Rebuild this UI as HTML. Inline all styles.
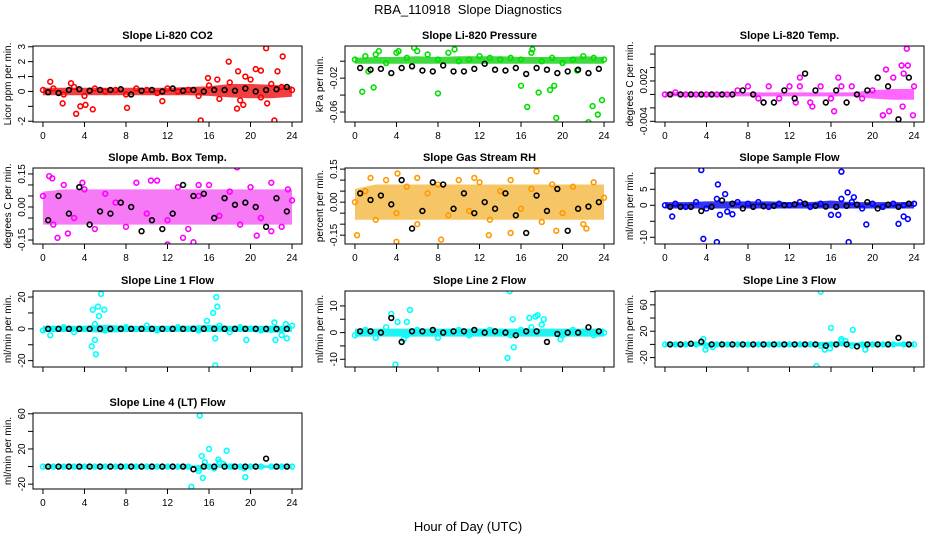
<!DOCTYPE html>
<html><head><meta charset="utf-8">
<style>
html,body{margin:0;padding:0;background:#fff;}
svg{display:block;font-family:"Liberation Sans",Arial,sans-serif;}
</style></head>
<body>
<svg id="chart" width="936" height="540" viewBox="0 0 936 540" xmlns="http://www.w3.org/2000/svg">
<rect x="0" y="0" width="936" height="540" fill="#fff"/>
<text x="468" y="14" text-anchor="middle" font-size="13" xml:space="preserve">RBA_110918  Slope Diagnostics</text>
<text x="468" y="531" text-anchor="middle" font-size="13">Hour of Day (UTC)</text>
</svg>
<script>
// ---------- shared x data ----------
const hourTicks = [0,4,8,12,16,20,24];
const hoursMain = [0,1,2,3,4,5,6,7,8,9,10,11,12,13,14,15,16,17,18,19,20,21,22,23,24];
const hoursEnv = [0,2,4,6,8,10,12,14,16,18,20,22,24];
const hoursBlack = [0.5,1.5,2.5,3.5,4.5,5.5,6.5,7.5,8.5,9.5,10.5,11.5,12.5,13.5,14.5,15.5,16.5,17.5,18.5,19.5,20.5,21.5,22.5,23.5];

// ---------- Panel 1: CO2 ----------
const co2Main = [0.1,0.2,-0.2,0.3,-0.3,0.2,0,0.1,-0.2,0.2,0.1,-0.1,0.2,0,0.1,-0.3,0.4,-0.5,0.6,-0.6,0.8,-0.4,0.5,0.3,0.1];
const co2EnvLo = [-0.25,-0.25,-0.25,-0.25,-0.25,-0.25,-0.25,-0.25,-0.3,-0.4,-0.45,-0.45,-0.35];
const co2EnvHi = [0.25,0.25,0.25,0.25,0.25,0.25,0.25,0.3,0.35,0.5,0.5,0.45,0.35];
const co2OutX = [0.7,1.9,2.7,3.2,3.6,4.1,4.8,8.1,11.5,15.2,15.9,17.9,18.7,18.8,19.5,20.5,21.0,21.5,21.6,22.3,22.6,23.1,19.3,16.8];
const co2OutY = [0.65,-0.8,0.55,-1.5,-1.0,-0.9,-1.2,-1.1,-0.65,-1.95,0.9,2.0,-1.15,1.35,1.0,1.5,1.4,2.9,-0.8,-1.95,1.35,2.35,-0.9,0.8];
const co2Black = [-0.05,-0.1,0.1,0.15,0.05,0.1,0.1,0.15,-0.2,0.05,0.1,0,0.2,0.05,0.1,0,0.1,0.1,0.05,0.2,0,0.1,0.15,0.3];
const co2Ticks = [-2,-1,0,1,2,3];
const co2Labels = ["-2","","0","1","2","3"];

// ---------- Panel 2: Pressure ----------
const presMain = [0.002,0.006,0.008,-0.002,0.01,0.004,0.012,0.008,0.002,0.01,0.0,0.002,0.006,0.004,0.002,0.004,0.002,0.01,0.0,0.004,-0.002,0.002,0.006,0.004,0.002];
const presEnvLo = [-0.003,-0.003,-0.003,-0.003,-0.003,-0.003,-0.003,-0.003,-0.003,-0.003,-0.003,-0.003,-0.003];
const presEnvHi = [0.004,0.005,0.005,0.006,0.005,0.006,0.006,0.006,0.005,0.005,0.005,0.006,0.005];
const presOutX = [0.7,1.3,1.8,2.3,4.2,5.7,8.0,9.6,16.0,16.6,17.1,17.7,18.8,19.2,19.4,22.5,22.9,23.4,23.8,21.4];
const presOutY = [-0.036,-0.012,-0.031,0.012,0.012,0.016,-0.038,0.014,-0.029,-0.054,0.014,-0.037,-0.034,-0.029,-0.067,-0.072,-0.053,-0.063,-0.046,-0.011];
const presBlack = [-0.008,-0.01,-0.009,-0.014,-0.008,-0.006,-0.011,-0.012,-0.005,-0.012,-0.012,-0.009,-0.003,-0.01,-0.011,-0.008,-0.015,-0.008,-0.01,-0.014,-0.012,-0.01,-0.014,-0.009];
const presTicks = [-0.06,-0.04,-0.02,0];
const presLabels = ["-0.06","","-0.02",""];

// ---------- Panel 3: Li-820 Temp ----------
const tempMain = [0,0.0003,0,0,0,0,0,0.0006,0.0012,-0.0006,0.0012,-0.0006,0.0012,0.0012,-0.0012,0.0012,-0.0006,0.0012,0.0012,-0.0006,0.0006,-0.0031,0.0025,0.0031,0.0012];
const tempEnvLo = [-0.0003,-0.0003,-0.0003,-0.0003,-0.0003,-0.0003,-0.0003,-0.0003,-0.0003,-0.0003,-0.0006,-0.0008,-0.0008];
const tempEnvHi = [0.0004,0.0003,0.0003,0.0003,0.0003,0.0003,0.0003,0.0003,0.0003,0.0003,0.0006,0.0008,0.0008];
const tempOutX = [13,16.7,16.3,14.2,21.3,22.8,23.3,23.4,22.9,23.9,21,21.6,12.6,9.5];
const tempOutY = [0.0025,0.0025,-0.0025,-0.0018,0.0037,0.0043,0.0068,0.0043,-0.0018,-0.0031,-0.0031,-0.0025,-0.0012,-0.0012];
const tempBlack = [0,0,0,0,0,0,0,0.0006,0,-0.0012,-0.0012,0.0006,-0.0006,0.0031,0.0006,-0.0012,0.0006,-0.0012,0,0.0006,0.0025,0.0012,-0.0037,0.0025];
const tempTicks = [-0.004,-0.002,0,0.002,0.004,0.006];
const tempLabels = ["-0.004","","","0.002","",""];

// ---------- Panel 4: Amb Box Temp ----------
const ambMain = [0.05,-0.08,0.1,-0.05,0.08,-0.1,0.06,0.02,-0.09,0.11,-0.03,0.12,-0.06,0.09,-0.1,0.05,0.1,-0.04,0.07,-0.08,0.09,-0.05,0.11,-0.09,0.03];
const ambEnvLo = [-0.08,-0.08,-0.08,-0.08,-0.08,-0.08,-0.08,-0.08,-0.08,-0.08,-0.08,-0.08,-0.08];
const ambEnvHi = [0.07,0.08,0.08,0.08,0.08,0.08,0.08,0.08,0.08,0.08,0.08,0.08,0.08];
const ambOutX = [0.9,1.4,2.4,3.8,10.4,12,13.5,14.5,15.0,18.7,20.6,22,23.6,0.6];
const ambOutY = [0.13,-0.14,-0.12,0.11,0.12,-0.17,-0.14,-0.16,0.1,0.18,-0.13,-0.11,0.08,0.14];
const ambBlack = [-0.06,0.05,-0.03,0.09,-0.08,-0.02,-0.03,0.02,0.0,-0.11,-0.06,-0.1,-0.03,0.1,0.05,0.06,-0.05,0.04,0.01,0.02,0.0,-0.09,0.04,-0.02];
const ambTicks = [-0.15,-0.1,-0.05,0,0.05,0.1,0.15];
const ambLabels = ["-0.15","","","0.00","","","0.15"];

// ---------- Panel 5: Gas Stream RH ----------
const rhMain = [0,0.05,-0.08,0.1,-0.05,0.07,-0.1,0.04,0.08,-0.06,0.1,-0.04,0.09,-0.08,0.05,0.1,-0.03,0.06,-0.09,0.08,-0.05,0.07,-0.1,0.09,0.02];
const rhEnvLo = [-0.08,-0.08,-0.08,-0.08,-0.08,-0.08,-0.08,-0.08,-0.08,-0.08,-0.08,-0.08,-0.08];
const rhEnvHi = [0.06,0.08,0.08,0.08,0.08,0.08,0.08,0.08,0.08,0.08,0.08,0.08,0.08];
const rhOutX = [0.2,4.0,8.3,12.9,15.0,17.5,19.4,22.3,4.1,6,11.5,1.5];
const rhOutY = [-0.15,-0.18,-0.17,-0.15,-0.14,0.14,-0.13,-0.12,0.13,0.11,0.11,0.11];
const rhBlack = [0.04,0.01,0.03,-0.01,0.1,-0.12,-0.04,0.09,0.08,-0.03,0.04,-0.05,0.0,-0.03,0.04,-0.06,-0.14,0.03,-0.04,0.06,-0.13,-0.03,-0.02,0.0];
const rhTicks = [-0.15,-0.1,-0.05,0,0.05,0.1,0.15];
const rhLabels = ["-0.15","","","0.00","","","0.15"];

// ---------- Panel 6: Sample Flow ----------
const sfMain = [0,0.5,-0.5,1,-1,2,-2,1,0.5,1,-0.5,0.5,0,1,-0.5,0.5,-3,2,1,-1,0.5,-0.5,0.5,0,0.5];
const sfEnvLo = [-1,-1,-1,-1,-1,-1,-1,-1,-1,-1,-1,-1,-1];
const sfEnvHi = [1,1,1.2,1.2,1.2,1.2,1,1,1.5,1,1,1,1];
const sfOutX = [0.7,3.5,3.7,5.0,5.1,5.3,5.8,6.5,16.7,17,17.6,17.7,18.2,19.4,22.5,23,23.4];
const sfOutY = [-3.5,11,-10.5,-11.5,6.5,-3,3.5,-2.8,-3,10.5,4,-11.5,2.5,-6,-5.8,-3.5,-4.3];
const sfBlack = [-0.5,-0.5,-0.5,-1.8,-0.5,1.5,0.5,-1,-0.5,-0.3,-0.2,0,0.3,0.5,-0.2,-0.4,-0.5,-0.2,0.2,1,-1,0.2,-0.5,0.5];
const sfTicks = [-10,-5,0,5,10];
const sfLabels = ["-10","","0","5",""];

// ---------- Panel 7: Line 1 Flow ----------
const l1Main = [-1,0,1,-2,0,3,-1,0,1,0,2,-1,0,1,0,-1,0,2,-2,1,0,-1,0,-4,2];
const l1EnvLo = [-2,-2,-2,-2.5,-2,-2,-2,-2,-2,-2,-2,-2.5,-2];
const l1EnvHi = [2,2,2,2.5,2,2,2,2,2.5,2,2,2,2];
const l1OutX = [4.8,4.7,5.1,5.3,5.4,5.9,5.0,5.6,0.7,16.4,16.6,16.7,16.8,16.6,19.6,22.4,22.3,23.4,23.5,15.8];
const l1OutY = [12,-11,-16,14,8,12,-7,22,-4,10,-6,20,14,-23,-7,-7,4,3,-6,5];
const l1Black = [0,0,0,0,0,0,0,0,0,0,0,0,0,0,0,0,0,0,0,0,0,0,0,0];
const l1Ticks = [-20,-10,0,10,20];
const l1Labels = ["-20","","0","","20"];

// ---------- Panel 8: Line 2 Flow ----------
const l2Main = [-1,1,-2,2,0,-1,1,0,-2,0,1,-1,0,1,0,-1,1,2,3,0,-1,1,0,-1,0];
const l2EnvLo = [-1.5,-1.5,-1.5,-1.5,-1.5,-1.5,-1.5,-1.5,-1.5,-1.5,-1.5,-1.5,-1.5];
const l2EnvHi = [1.5,1.5,1.5,1.5,1.5,1.5,1.5,1.5,1.5,1.5,1.5,1.5,1.5];
const l2OutX = [3.5,3.9,4.1,5.0,5.3,4.7,14.9,14.7,15.2,15.3,16.8,17.4,17.6,18.2,19.8];
const l2OutY = [7,-12,4,4,8.5,-2.5,15.5,-9.5,5,-5.5,5.5,6,6.5,5,-2.5];
const l2Black = [0.5,0.5,0,5.5,-3.5,0.5,0.5,1,0,0.5,0.5,1,0,0.5,0,-1,0.5,0.5,-3.5,-0.5,0,0,2,0.5];
const l2Ticks = [-10,-5,0,5,10];
const l2Labels = ["-10","","0","","10"];

// ---------- Panel 9: Line 3 Flow ----------
const l3Main = [0,0,0,0,-2,0,0,0,0,0,0,0,0,0,0,-2,0,5,-2,0,0,0,0,0,0];
const l3EnvLo = [-3,-3,-3,-3,-3,-3,-3,-3,-3,-3,-3,-3,-3];
const l3EnvHi = [3,3,3,3,3,3,3,3,4,3,3,3,3];
const l3OutX = [3.7,3.9,4.6,14.6,15.0,15.4,15.9,16.0,17.0,17.4,18.1,19.3];
const l3OutY = [8,-8,-4,-33,80,-8,-6,25,8,5,22,-8];
const l3Black = [0,0,1,4,0,0,0,0,0,0,0,0,0,0,0,-2,0,0,-3,0,0,0,10,0];
const l3Ticks = [-20,0,20,40,60,80];
const l3Labels = ["-20","","20","","60",""];

// ---------- Panel 10: Line 4 (LT) Flow ----------
const l4Main = [0,0,0,0,0,0,0,0,0,0,0,0,0,0,0,-5,0,5,0,0,0,0,0,0,0];
const l4EnvLo = [-1.5,-1.5,-1.5,-1.5,-1.5,-1.5,-1.5,-1.5,-1.5,-1.5,-1.5,-1.5,-1.5];
const l4EnvHi = [1.5,1.5,1.5,1.5,1.5,1.5,1.5,1.5,1.5,1.5,1.5,1.5,1.5];
const l4OutX = [14.3,15.1,15.3,15.4,15.6,15.0,16.0,16.5,16.9,17.7,17.4,19.4,19.5,18.2];
const l4OutY = [-23,58,12,-13,5,-2,20,-2,8,18,3,-2,-12,0];
const l4Black = [0,0,0,0,0,0,0,0,0,0,0,0,0,0,-3,0,0,0,0,0,0,9,0,0];
const l4Ticks = [-20,0,20,40,60];
const l4Labels = ["-20","","20","","60"];

// ---------- layout (not data) ----------
const panels = [
 {id:'co2', title:'Slope Li-820 CO2', ytitle:'Licor ppm per min.', col:0,row:0, ylo:-2.05,yhi:3.05, color:'#ff0000', env:'#ee0000', op:0.75, main:co2Main, lo:co2EnvLo, hi:co2EnvHi, ox:co2OutX, oy:co2OutY, blk:co2Black, ticks:co2Ticks, labels:co2Labels, xlab:true},
 {id:'pressure', title:'Slope Li-820 Pressure', ytitle:'kPa per min.', col:1,row:0, ylo:-0.0718,yhi:0.018, color:'#00e000', env:'#00cc00', op:0.75, main:presMain, lo:presEnvLo, hi:presEnvHi, ox:presOutX, oy:presOutY, blk:presBlack, ticks:presTicks, labels:presLabels, xlab:true},
 {id:'li820-temp', title:'Slope Li-820 Temp.', ytitle:'degrees C per min.', col:2,row:0, ylo:-0.0041,yhi:0.0072, color:'#ff00ff', env:'#ff00ff', op:0.6, main:tempMain, lo:tempEnvLo, hi:tempEnvHi, ox:tempOutX, oy:tempOutY, blk:tempBlack, ticks:tempTicks, labels:tempLabels, xlab:true},
 {id:'amb-box-temp', title:'Slope Amb. Box Temp.', ytitle:'degrees C per min.', col:0,row:1, ylo:-0.168,yhi:0.177, color:'#ff00ff', env:'#f020f0', op:0.6, main:ambMain, lo:ambEnvLo, hi:ambEnvHi, ox:ambOutX, oy:ambOutY, blk:ambBlack, ticks:ambTicks, labels:ambLabels, xlab:true},
 {id:'gas-stream-rh', title:'Slope Gas Stream RH', ytitle:'percent per min.', col:1,row:1, ylo:-0.19,yhi:0.155, color:'#ff9900', env:'#f0a000', op:0.6, main:rhMain, lo:rhEnvLo, hi:rhEnvHi, ox:rhOutX, oy:rhOutY, blk:rhBlack, ticks:rhTicks, labels:rhLabels, xlab:true},
 {id:'sample-flow', title:'Slope Sample Flow', ytitle:'ml/min per min.', col:2,row:1, ylo:-12.1,yhi:11.65, color:'#0000ff', env:'#0000ee', op:0.8, main:sfMain, lo:sfEnvLo, hi:sfEnvHi, ox:sfOutX, oy:sfOutY, blk:sfBlack, ticks:sfTicks, labels:sfLabels, xlab:true},
 {id:'line1-flow', title:'Slope Line 1 Flow', ytitle:'ml/min per min.', col:0,row:2, ylo:-24,yhi:23.8, color:'#00ffff', env:'#00eeee', op:0.85, main:l1Main, lo:l1EnvLo, hi:l1EnvHi, ox:l1OutX, oy:l1OutY, blk:l1Black, ticks:l1Ticks, labels:l1Labels, xlab:false},
 {id:'line2-flow', title:'Slope Line 2 Flow', ytitle:'ml/min per min.', col:1,row:2, ylo:-12.9,yhi:15.6, color:'#00ffff', env:'#00eeee', op:0.85, main:l2Main, lo:l2EnvLo, hi:l2EnvHi, ox:l2OutX, oy:l2OutY, blk:l2Black, ticks:l2Ticks, labels:l2Labels, xlab:false},
 {id:'line3-flow', title:'Slope Line 3 Flow', ytitle:'ml/min per min.', col:2,row:2, ylo:-34.3,yhi:81, color:'#00ffff', env:'#00eeee', op:0.85, main:l3Main, lo:l3EnvLo, hi:l3EnvHi, ox:l3OutX, oy:l3OutY, blk:l3Black, ticks:l3Ticks, labels:l3Labels, xlab:false},
 {id:'line4-flow', title:'Slope Line 4 (LT) Flow', ytitle:'ml/min per min.', col:0,row:3, ylo:-25.5,yhi:60.9, color:'#00ffff', env:'#00eeee', op:0.85, main:l4Main, lo:l4EnvLo, hi:l4EnvHi, ox:l4OutX, oy:l4OutY, blk:l4Black, ticks:l4Ticks, labels:l4Labels, xlab:true}
];
const colLeft = [33,345,655];
const rowTop = [46,168,291,413];
const boxW = 269, boxH = 76;

const NS = 'http://www.w3.org/2000/svg';
const svg = document.getElementById('chart');
function mk(tag, attrs, parent){
  const e = document.createElementNS(NS, tag);
  for (const k in attrs) e.setAttribute(k, attrs[k]);
  parent.appendChild(e);
  return e;
}

panels.forEach(p => {
  const L = colLeft[p.col], T = rowTop[p.row];
  const x0 = L + boxW*0.04/1.08, xw = boxW/1.08;
  const xs = v => x0 + v/24*xw;
  const ys = v => T + boxH - (v - p.ylo)/(p.yhi - p.ylo)*boxH;

  const g = mk('g', {}, svg);
  
  

  const clipId = 'clip-' + p.id;
  const cp = mk('clipPath', {id: clipId}, g);
  mk('rect', {x:L, y:T, width:boxW, height:boxH}, cp);

  const t = mk('text', {x: L + boxW/2, y: T - 7, 'text-anchor':'middle', 'font-size':'11', 'font-weight':'bold'}, g);
  t.textContent = p.title;
  
  

  const yt = mk('text', {x: 0, y: 0, 'text-anchor':'middle', 'font-size':'10', transform:'translate(' + (L-22) + ',' + (T+boxH/2) + ') rotate(-90)'}, g);
  yt.textContent = p.ytitle;
  
  

  const plot = mk('g', {'clip-path': 'url(#' + clipId + ')'}, g);
  
  

  let pts = [];
  hoursEnv.forEach((h,i) => pts.push(xs(h).toFixed(1) + ',' + ys(p.hi[i]).toFixed(1)));
  for (let i = hoursEnv.length-1; i >= 0; i--) pts.push(xs(hoursEnv[i]).toFixed(1) + ',' + ys(p.lo[i]).toFixed(1));
  const band = mk('polygon', {points: pts.join(' '), fill: p.env, 'fill-opacity': p.op}, plot);
  
  

  p.main.forEach((v,i) => {
    const c = mk('circle', {cx: xs(hoursMain[i]), cy: ys(v), r: 2.4, fill:'none', stroke: p.color, 'stroke-width': 1.6}, plot);
    
    
  });
  p.ox.forEach((x,i) => {
    const c = mk('circle', {cx: xs(x), cy: ys(p.oy[i]), r: 2.4, fill:'none', stroke: p.color, 'stroke-width': 1.6}, plot);
    
    
  });
  p.blk.forEach((v,i) => {
    const c = mk('circle', {cx: xs(hoursBlack[i]), cy: ys(v), r: 2.4, fill:'none', stroke:'#000', 'stroke-width': 1.6}, plot);
    
    
  });

  const box = mk('rect', {x:L, y:T, width:boxW, height:boxH, fill:'none', stroke:'#000', 'stroke-width':1}, g);
  
  

  const xa = mk('g', {}, g);
  
  
  mk('line', {x1: xs(0), x2: xs(24), y1: T+boxH, y2: T+boxH, stroke:'#000'}, xa);
  hourTicks.forEach(h => {
    mk('line', {x1: xs(h), x2: xs(h), y1: T+boxH, y2: T+boxH+5, stroke:'#000'}, xa);
    if (p.xlab) {
      const tl = mk('text', {x: xs(h), y: T+boxH+17, 'text-anchor':'middle', 'font-size':'10'}, xa);
      tl.textContent = String(h);
      
      
    }
  });

  const ya = mk('g', {}, g);
  
  
  mk('line', {x1: L, x2: L, y1: ys(p.ticks[0]), y2: ys(p.ticks[p.ticks.length-1]), stroke:'#000'}, ya);
  p.ticks.forEach((v,i) => {
    const yy = ys(v);
    mk('line', {x1: L-5, x2: L, y1: yy, y2: yy, stroke:'#000'}, ya);
    if (p.labels[i]) {
      const tl = mk('text', {x: 0, y: 0, 'text-anchor':'middle', 'font-size':'10', transform:'translate(' + (L-8) + ',' + yy + ') rotate(-90)'}, ya);
      tl.textContent = p.labels[i];
      
      
    }
  });
});
</script>
</body></html>
